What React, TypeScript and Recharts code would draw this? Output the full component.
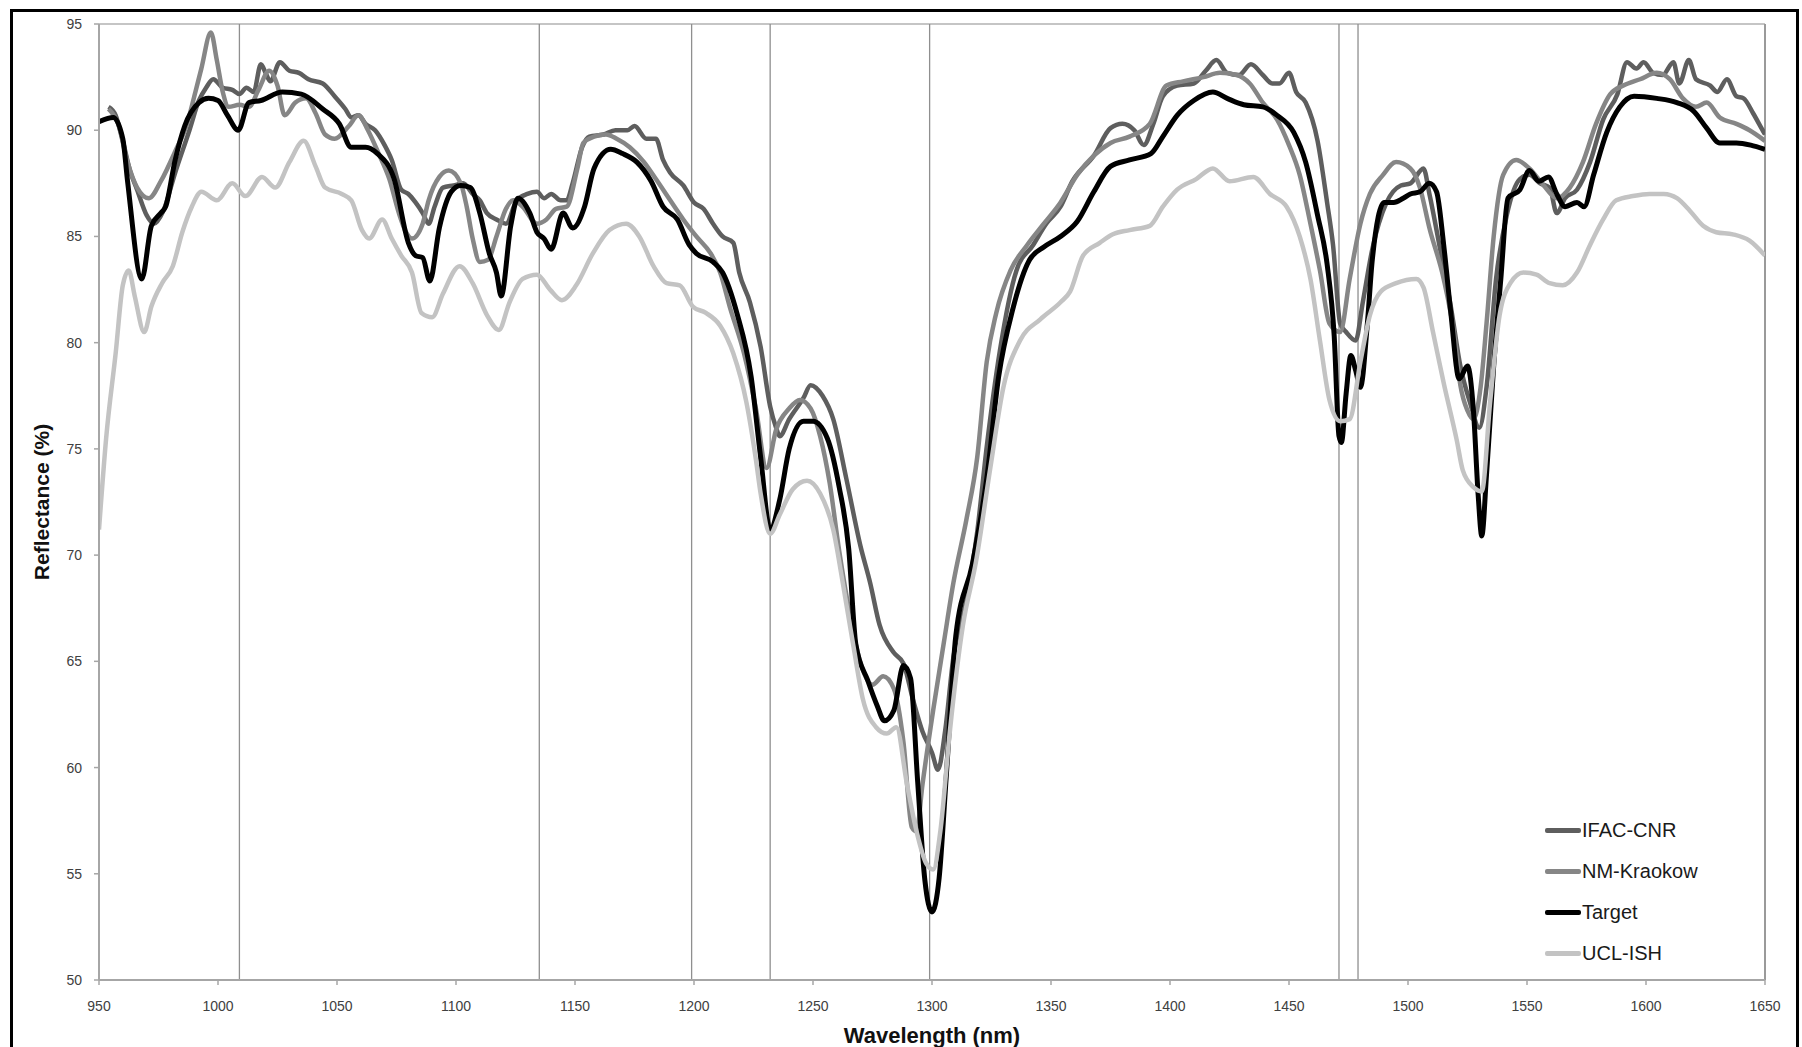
import { LineChart, Line, XAxis, YAxis, ReferenceLine } from 'recharts'

// wavelengths (nm) and reflectance (%), one pair of arrays per series
const ifacWl = [954, 957, 960, 963, 966, 970, 973, 977, 982, 988, 992, 995, 998, 1002, 1006, 1009, 1012, 1015, 1018, 1020, 1022, 1026, 1030, 1034, 1038, 1044, 1049, 1053.5, 1056, 1059, 1062, 1066, 1070, 1073, 1077, 1080, 1083, 1086, 1088.5, 1091, 1094.5, 1099, 1103, 1107, 1110, 1113, 1117, 1121, 1125.5, 1130, 1134, 1137, 1140, 1144, 1146.5, 1149, 1153, 1156, 1162, 1167, 1172, 1175, 1180, 1184, 1187, 1190, 1195.5, 1200, 1204, 1208, 1212, 1216.5, 1219, 1223.5, 1228, 1232, 1234.5, 1236, 1240, 1246, 1249, 1254, 1258.5, 1264, 1270, 1274, 1278, 1284, 1288, 1292, 1296, 1300, 1302.5, 1305.5, 1309, 1314.5, 1319, 1323, 1328.5, 1335.5, 1342.5, 1348, 1354, 1359, 1368, 1375, 1380, 1385, 1389, 1393, 1397, 1403, 1410, 1415, 1419.5, 1424, 1429, 1434, 1439, 1443, 1446, 1450, 1453, 1457, 1462, 1466, 1468.5, 1471.5, 1474, 1478, 1481, 1485, 1491, 1497, 1501, 1506.5, 1509, 1513.5, 1518, 1522, 1526, 1530, 1533, 1537, 1541.5, 1547, 1551, 1555.5, 1559.5, 1562.5, 1566, 1571, 1576.5, 1582, 1588, 1592, 1596, 1599, 1603, 1607, 1611.5, 1614, 1618, 1621, 1627, 1630, 1634, 1638, 1641, 1645, 1648.5, 1650]
const ifacVal = [91.1, 90.7, 89.5, 88.1, 87.2, 86.0, 85.6, 86.2, 88.0, 90.0, 91.4, 92.0, 92.4, 92.0, 91.9, 91.7, 92.0, 91.8, 93.1, 92.7, 92.3, 93.2, 92.8, 92.7, 92.4, 92.2, 91.6, 91.0, 90.6, 90.7, 90.3, 90.0, 89.3, 88.6, 87.2, 87.0, 86.6, 86.1, 85.6, 86.4, 87.3, 87.4, 87.5, 87.0, 86.7, 86.1, 85.8, 85.6, 86.7, 87.0, 87.1, 86.8, 87.0, 86.7, 86.7, 87.5, 89.2, 89.7, 89.8, 90.0, 90.0, 90.2, 89.6, 89.6, 88.6, 88.0, 87.4, 86.6, 86.3, 85.6, 85.0, 84.7, 83.3, 81.9, 79.8, 77.0, 76.0, 75.6, 76.4, 77.4, 78.0, 77.5, 76.4, 73.6, 70.4, 68.7, 66.7, 65.4, 64.9, 63.2, 61.7, 60.7, 59.9, 61.7, 65.2, 67.9, 71.1, 75.1, 79.6, 83.4, 84.6, 85.6, 86.4, 87.6, 88.8, 90.1, 90.3, 90.0, 89.3, 90.3, 91.6, 92.1, 92.2, 92.8, 93.3, 92.7, 92.6, 93.1, 92.6, 92.2, 92.2, 92.7, 91.8, 91.3, 89.5, 86.6, 84.6, 80.9, 80.5, 80.1, 81.9, 84.4, 86.6, 87.4, 87.5, 88.2, 87.0, 84.4, 81.7, 78.9, 77.2, 76.0, 77.9, 83.0, 86.0, 87.7, 87.9, 87.5, 87.3, 86.1, 86.8, 87.2, 88.5, 90.5, 91.7, 93.2, 92.9, 93.2, 92.7, 92.6, 93.2, 92.2, 93.3, 92.4, 92.1, 91.8, 92.4, 91.6, 91.5, 90.8, 90.1, 89.8]

const nmWl = [954, 958, 962, 966, 971, 976, 982, 987, 990.5, 993, 997, 999.5, 1002, 1004.5, 1009, 1013, 1017, 1021.5, 1025, 1028, 1032.5, 1037, 1041, 1045, 1049, 1055, 1059, 1063, 1067.5, 1072, 1076, 1079, 1081.5, 1086, 1088.5, 1093, 1097, 1102, 1104.5, 1107, 1110, 1113.5, 1117, 1121, 1124, 1128, 1134, 1138, 1142, 1146.5, 1151, 1153.5, 1158, 1163, 1167.5, 1173, 1179, 1184, 1190, 1195.5, 1201, 1207, 1211, 1215, 1221, 1226, 1230.5, 1234.5, 1240, 1244.5, 1249, 1253, 1257, 1261, 1265.5, 1270, 1275, 1279.5, 1284, 1288, 1291.5, 1293.5, 1296, 1300.5, 1305, 1309, 1314.5, 1319, 1323, 1327, 1333, 1340, 1347, 1354, 1361, 1368, 1375, 1383, 1391.5, 1398.5, 1405.5, 1414, 1421, 1428, 1433.5, 1439, 1445, 1450, 1454.5, 1459, 1463, 1467, 1471.5, 1475.5, 1480, 1484, 1489.5, 1495, 1501, 1505, 1509, 1515, 1519.5, 1522, 1525, 1527.5, 1530.5, 1533, 1536, 1540, 1545.5, 1551, 1557, 1562.5, 1568, 1573.5, 1579, 1585, 1590.5, 1597.5, 1604.5, 1610, 1615.5, 1621, 1625.5, 1631, 1638, 1643.5, 1650]
const nmVal = [91.0, 90.3, 88.5, 87.3, 86.8, 87.6, 89.0, 90.3, 91.8, 92.9, 94.6, 93.3, 91.8, 91.1, 91.2, 91.1, 91.9, 92.8, 92.1, 90.7, 91.3, 91.5, 90.8, 89.8, 89.6, 90.2, 90.7, 90.0, 88.9, 87.7, 86.1, 85.2, 84.9, 85.6, 86.7, 87.8, 88.1, 87.5, 86.4, 84.9, 83.8, 83.9, 85.0, 86.3, 86.7, 86.4, 85.6, 85.8, 86.3, 86.4, 88.2, 89.4, 89.7, 89.8, 89.6, 89.2, 88.5, 87.7, 86.7, 85.8, 85.0, 84.2, 83.3, 81.7, 79.5, 76.9, 74.1, 75.9, 76.9, 77.3, 76.9, 75.6, 73.4, 70.2, 67.2, 64.9, 63.9, 64.3, 63.7, 61.2, 57.2, 57.0, 59.2, 62.7, 65.9, 68.7, 71.7, 74.6, 79.1, 81.4, 83.4, 84.6, 85.6, 86.6, 87.9, 88.8, 89.4, 89.7, 90.3, 92.1, 92.3, 92.5, 92.7, 92.6, 92.2, 91.3, 90.5, 89.3, 87.9, 85.6, 83.4, 80.9, 80.5, 83.0, 85.6, 87.0, 87.9, 88.5, 88.2, 87.3, 85.4, 83.0, 80.3, 78.0, 76.8, 76.4, 77.9, 80.9, 85.0, 87.9, 88.6, 88.2, 87.4, 86.8, 87.3, 88.5, 90.3, 91.7, 92.1, 92.4, 92.7, 92.4, 91.5, 91.1, 91.3, 90.6, 90.3, 90.0, 89.5]

const targetWl = [950, 956, 960, 962, 968, 972, 976, 978, 982, 986, 992, 996, 1000, 1004, 1008.5, 1013, 1018, 1027, 1035, 1044, 1051, 1056, 1062, 1067, 1074, 1080, 1083, 1086, 1089, 1093, 1098, 1102, 1106, 1110, 1114, 1117, 1119, 1123, 1126, 1131, 1134, 1137, 1140, 1145, 1149, 1154, 1158, 1165, 1170, 1176, 1182, 1187, 1193, 1198, 1201, 1208, 1212, 1218, 1224, 1228, 1232, 1236, 1240, 1246, 1250, 1256, 1261, 1265, 1268, 1273, 1277, 1280, 1284, 1288, 1291, 1294, 1297, 1300, 1303, 1306, 1310, 1317, 1323, 1328, 1334, 1341, 1347, 1354, 1361, 1368, 1375, 1383, 1392, 1397, 1403, 1410, 1418, 1424, 1431, 1439, 1445, 1452, 1457, 1462, 1466, 1469, 1471, 1472, 1474, 1476, 1478, 1480, 1483, 1485, 1490, 1494, 1498, 1501, 1505, 1509, 1512, 1515, 1518, 1521.5, 1525, 1527.5, 1529.5, 1531, 1533, 1536, 1539, 1542, 1547, 1551, 1555, 1559, 1562.5, 1566, 1571, 1574, 1578, 1583.5, 1589, 1595, 1604.5, 1613, 1620, 1625.5, 1631, 1638, 1644, 1650]
const targetVal = [90.4, 90.6, 89.6, 87.6, 83.0, 85.5, 86.1, 86.4, 88.6, 90.2, 91.3, 91.5, 91.4, 90.7, 90.0, 91.3, 91.4, 91.8, 91.7, 91.0, 90.3, 89.2, 89.2, 88.9, 87.7, 84.7, 84.1, 84.0, 82.9, 85.4, 87.1, 87.4, 87.3, 86.1, 84.2, 83.3, 82.2, 85.5, 86.8, 86.1, 85.2, 84.9, 84.4, 86.1, 85.4, 86.4, 88.2, 89.1, 88.9, 88.5, 87.6, 86.4, 85.8, 84.6, 84.2, 83.8, 83.3, 81.4, 78.4, 74.6, 71.2, 72.6, 75.0, 76.3, 76.3, 75.5, 73.2, 70.3, 65.8, 64.1, 62.9, 62.2, 62.7, 64.8, 64.2, 59.3, 54.7, 53.2, 54.8, 59.6, 66.2, 69.6, 73.6, 78.4, 81.6, 83.9, 84.5, 85.0, 85.7, 87.1, 88.3, 88.6, 88.9, 89.7, 90.7, 91.4, 91.8, 91.5, 91.2, 91.1, 90.7, 89.9, 88.5, 86.0, 83.7, 80.3, 75.6, 75.3, 77.6, 79.4, 78.7, 77.9, 81.0, 83.9, 86.6, 86.6, 86.8, 87.0, 87.1, 87.5, 87.1, 84.6, 81.4, 78.3, 78.9, 76.8, 72.8, 70.9, 73.8, 78.9, 83.0, 86.8, 87.2, 88.1, 87.6, 87.8, 87.0, 86.4, 86.6, 86.4, 87.9, 89.9, 91.1, 91.6, 91.5, 91.3, 90.9, 90.1, 89.4, 89.4, 89.3, 89.1]

const uclWl = [950, 953, 957, 960, 962.5, 965, 969, 972, 976.5, 981, 985, 989, 993, 999.5, 1006, 1011.5, 1018.5, 1024, 1030, 1036, 1041, 1045, 1052, 1056, 1060.5, 1063.5, 1069, 1073, 1077, 1081.5, 1085.5, 1090, 1094.5, 1101.5, 1107, 1113, 1118, 1122.5, 1128, 1134, 1139.5, 1144.5, 1150.5, 1157.5, 1164.5, 1171.5, 1177, 1183, 1188.5, 1194, 1199.5, 1205, 1211, 1216.5, 1222, 1226, 1228, 1232, 1236, 1241.5, 1247.5, 1253, 1258.5, 1262.5, 1267, 1271, 1276.5, 1281, 1285, 1289.5, 1293.5, 1297.5, 1300.5, 1303.5, 1307.5, 1313, 1318.5, 1324.5, 1330, 1337, 1345.5, 1354, 1358, 1363.5, 1370.5, 1376, 1383, 1391.5, 1397, 1403, 1411, 1418, 1425, 1435, 1442, 1449, 1454.5, 1459, 1463, 1467, 1471.5, 1475.5, 1480, 1484, 1488.5, 1495, 1503.5, 1506.5, 1510.5, 1515, 1520.5, 1523, 1527.5, 1531, 1534.5, 1538.5, 1543, 1548.5, 1554, 1559.5, 1565, 1571, 1576.5, 1582, 1587.5, 1594.5, 1601.5, 1607.5, 1613, 1618.5, 1624, 1629.5, 1636.5, 1643.5, 1650]
const uclVal = [71.2, 75.5, 79.5, 82.7, 83.4, 82.2, 80.5, 81.7, 82.8, 83.6, 85.2, 86.4, 87.1, 86.7, 87.5, 86.9, 87.8, 87.3, 88.5, 89.5, 88.3, 87.3, 87.0, 86.7, 85.3, 84.9, 85.8, 84.9, 84.1, 83.3, 81.4, 81.2, 82.3, 83.6, 82.8, 81.3, 80.6, 81.9, 83.0, 83.2, 82.5, 82.0, 82.7, 84.2, 85.3, 85.6, 85.0, 83.6, 82.8, 82.7, 81.7, 81.4, 80.8, 79.5, 77.2, 74.5, 72.9, 71.0, 71.9, 73.1, 73.5, 72.9, 71.2, 68.7, 65.7, 63.2, 61.9, 61.6, 61.9, 59.2, 57.0, 55.5, 55.2, 57.0, 61.7, 66.7, 69.7, 74.1, 77.9, 80.1, 81.1, 81.9, 82.4, 84.1, 84.7, 85.1, 85.3, 85.5, 86.4, 87.2, 87.7, 88.2, 87.6, 87.8, 87.0, 86.4, 85.0, 83.0, 80.1, 77.3, 76.3, 76.4, 79.1, 81.3, 82.4, 82.8, 83.0, 82.6, 80.5, 78.1, 75.4, 74.0, 73.2, 73.0, 77.2, 81.3, 82.8, 83.3, 83.2, 82.8, 82.7, 83.3, 84.6, 85.8, 86.7, 86.9, 87.0, 87.0, 86.8, 86.2, 85.5, 85.2, 85.1, 84.8, 84.1]

const xTicks = [950, 1000, 1050, 1100, 1150, 1200, 1250, 1300, 1350, 1400, 1450, 1500, 1550, 1600, 1650]
const yTicks = [50, 55, 60, 65, 70, 75, 80, 85, 90, 95]
const markerLines = [1009, 1135, 1199, 1232, 1299, 1471, 1479]

const toPoints = (wl: number[], val: number[]) => wl.map((x, i) => ({ x, y: val[i] }))

const series = [
  { name: 'IFAC-CNR', color: '#5e5e5e', data: toPoints(ifacWl, ifacVal) },
  { name: 'NM-Kraokow', color: '#868686', data: toPoints(nmWl, nmVal) },
  { name: 'Target', color: '#000000', data: toPoints(targetWl, targetVal) },
  { name: 'UCL-ISH', color: '#c3c3c3', data: toPoints(uclWl, uclVal) },
]

const font = '"Liberation Sans", Arial, sans-serif'
const axisColor = '#a6a6a6'
const tickStyle = { fill: '#404040', fontSize: 14, fontFamily: font }

function SeriesLegend() {
  return (
    <div style={{ position: 'absolute', left: 1545, top: 810, fontFamily: font }}>
      {series.map((s) => (
        <div key={s.name} style={{ display: 'flex', alignItems: 'center', height: 41 }}>
          <span style={{ display: 'inline-block', width: 36, height: 5, borderRadius: 2, backgroundColor: s.color }} />
          <span style={{ fontSize: 20, color: '#1a1a1a', marginLeft: 1 }}>{s.name}</span>
        </div>
      ))}
    </div>
  )
}

export default function App() {
  return (
    <div style={{ position: 'absolute', left: 0, top: 0, width: 1802, height: 1047, overflow: 'hidden', background: '#fff' }}>
      <div
        style={{
          position: 'absolute',
          left: 10,
          top: 9,
          width: 1789,
          height: 1100,
          border: '3px solid #000',
          boxSizing: 'border-box',
        }}
      />
      <div style={{ position: 'absolute', left: 0, top: 0 }}>
        <LineChart width={1802} height={1047} margin={{ top: 24, right: 37, left: 0, bottom: 0 }}>
          <XAxis
            type="number"
            dataKey="x"
            domain={[950, 1650]}
            ticks={xTicks}
            allowDataOverflow
            height={67}
            tick={tickStyle}
            tickSize={5}
            tickMargin={16}
            axisLine={{ stroke: axisColor, strokeWidth: 2 }}
            tickLine={{ stroke: axisColor, strokeWidth: 1.5 }}
            label={{
              value: 'Wavelength (nm)',
              position: 'insideBottom',
              offset: 4,
              style: { fontFamily: font, fontSize: 22, fontWeight: 700, fill: '#111' },
            }}
          />
          <YAxis
            type="number"
            domain={[50, 95]}
            ticks={yTicks}
            allowDataOverflow
            width={99}
            tick={tickStyle}
            tickSize={5}
            tickMargin={12}
            axisLine={{ stroke: axisColor, strokeWidth: 2 }}
            tickLine={{ stroke: axisColor, strokeWidth: 1.5 }}
            label={{
              value: 'Reflectance (%)',
              angle: -90,
              position: 'insideLeft',
              offset: 42,
              style: { fontFamily: font, fontSize: 21, fontWeight: 700, fill: '#111', textAnchor: 'middle' },
            }}
          />
          <ReferenceLine y={95} stroke="#8c8c8c" strokeWidth={1.2} />
          <ReferenceLine x={1650} stroke="#9a9a9a" strokeWidth={2} />
          {markerLines.map((w) => (
            <ReferenceLine key={w} x={w} stroke="#8f8f8f" strokeWidth={1.3} />
          ))}
          {series.map((s) => (
            <Line
              key={s.name}
              data={s.data}
              dataKey="y"
              name={s.name}
              type="monotone"
              stroke={s.color}
              strokeWidth={s.name === 'Target' ? 5 : 4.5}
              strokeLinejoin="round"
              dot={false}
              activeDot={false}
              isAnimationActive={false}
            />
          ))}
        </LineChart>
      </div>
      <SeriesLegend />
    </div>
  )
}
